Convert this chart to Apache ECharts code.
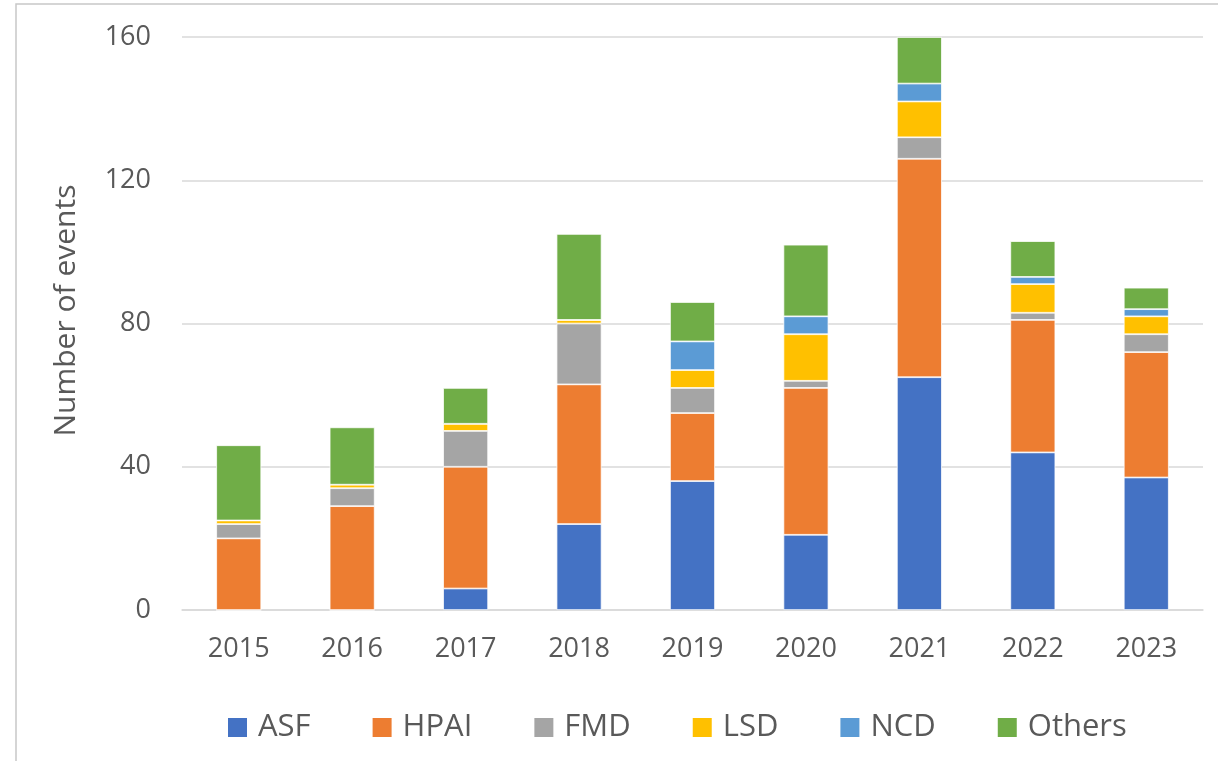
<!DOCTYPE html>
<html>
<head>
<meta charset="utf-8">
<script src="https://cdn.jsdelivr.net/npm/echarts@6/dist/echarts.min.js"></script>
<style>
  html, body { margin: 0; padding: 0; background: #fff; }
  #chart { width: 1218px; height: 761px; }
</style>
</head>
<body>
<div id="chart"></div>
<script>
var years = ['2015', '2016', '2017', '2018', '2019', '2020', '2021', '2022', '2023'];
var asf    = [0, 0, 6, 24, 36, 21, 65, 44, 37];
var hpai   = [20, 29, 34, 39, 19, 41, 61, 37, 35];
var fmd    = [4, 5, 10, 17, 7, 2, 6, 2, 5];
var lsd    = [1, 1, 2, 1, 5, 13, 10, 8, 5];
var ncd    = [0, 0, 0, 0, 8, 5, 5, 2, 2];
var others = [21, 16, 10, 24, 11, 20, 13, 10, 6];
var yTicks = [0, 40, 80, 120, 160];

var seriesNames = ['ASF', 'HPAI', 'FMD', 'LSD', 'NCD', 'Others'];
var seriesData = [asf, hpai, fmd, lsd, ncd, others];
var colors = ['#4472C4', '#ED7D31', '#A5A5A5', '#FFC000', '#5B9BD5', '#70AD47'];

var font = '"Open Sans", "Liberation Sans", sans-serif';
var textColor = '#595959';

var chartDom = document.getElementById('chart');
var myChart = echarts.init(chartDom);
var option;

option = {
  animation: false,
  color: colors,
  graphic: [
    {
      type: 'rect',
      shape: { x: 16, y: 4, width: 1230, height: 790 },
      style: { fill: 'none', stroke: '#c8c8c8', lineWidth: 1.5 },
      silent: true
    }
  ],
  grid: {
    left: 182,
    right: 15,
    top: 37,
    bottom: 151,
    containLabel: false
  },
  legend: {
    left: 226,
    top: 712,
    padding: 0,
    itemWidth: 21,
    itemHeight: 21,
    itemGap: 60,
    icon: 'rect',
    textStyle: {
      color: textColor,
      fontSize: 31,
      fontFamily: font,
      padding: [0, 0, 0, 5]
    },
    data: seriesNames
  },
  xAxis: {
    type: 'category',
    data: years,
    axisLine: { show: true, lineStyle: { color: '#d9d9d9', width: 1.5 } },
    axisTick: { show: false },
    axisLabel: {
      color: textColor,
      fontSize: 27,
      fontFamily: font,
      margin: 26
    }
  },
  yAxis: {
    type: 'value',
    min: yTicks[0],
    max: yTicks[yTicks.length - 1],
    interval: 40,
    name: 'Number of events',
    nameLocation: 'middle',
    nameGap: 101,
    nameTextStyle: {
      color: textColor,
      fontSize: 30,
      fontFamily: font,
      padding: [0, 0, 0, 26]
    },
    axisLine: { show: false },
    axisTick: { show: false },
    axisLabel: {
      color: textColor,
      fontSize: 27,
      fontFamily: font,
      margin: 31
    },
    splitLine: {
      lineStyle: { color: '#d9d9d9', width: 1.5 }
    }
  },
  series: seriesNames.map(function (name, i) {
    return {
      name: name,
      type: 'bar',
      stack: 'total',
      barWidth: 45,
      data: seriesData[i],
      itemStyle: {
        color: colors[i],
        borderColor: '#ffffff',
        borderWidth: 0.75
      }
    };
  })
};

option && myChart.setOption(option);
</script>
</body>
</html>
